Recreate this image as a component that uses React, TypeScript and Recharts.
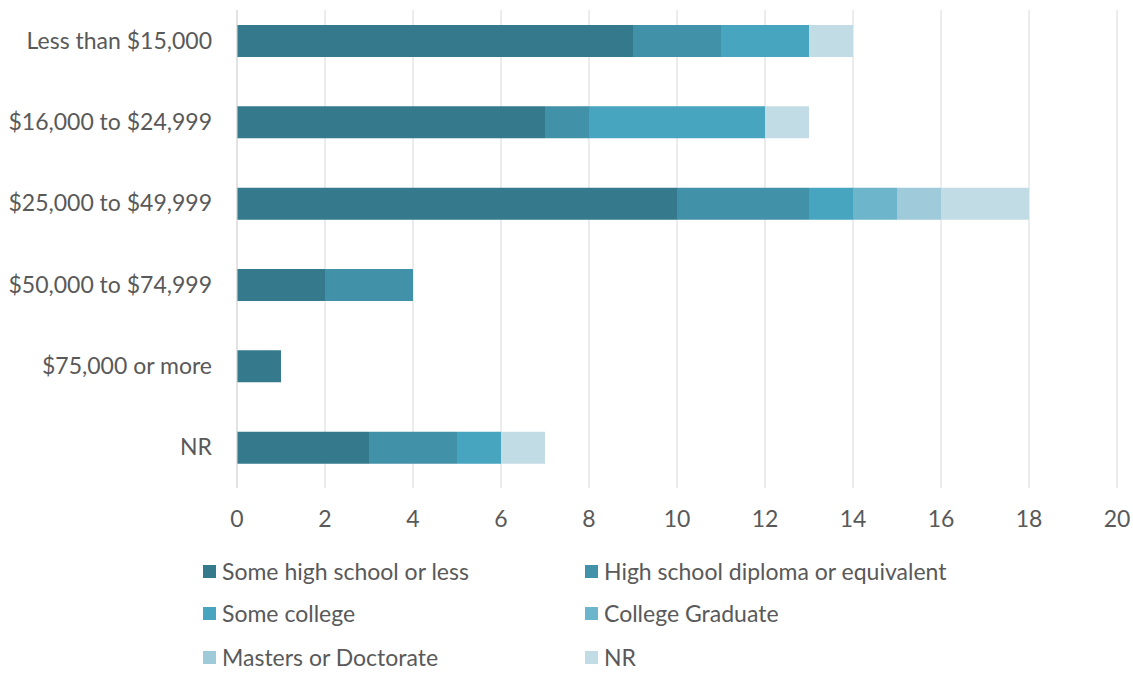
import React from 'react';
import { BarChart, Bar, XAxis, YAxis, CartesianGrid } from 'recharts';

const categories = [
    'Less than $15,000',
    '$16,000 to $24,999',
    '$25,000 to $49,999',
    '$50,000 to $74,999',
    '$75,000 or more',
    'NR',
];

const someHighSchool = [9, 7, 10, 2, 1, 3];
const highSchoolDiploma = [2, 1, 3, 2, 0, 2];
const someCollege = [2, 4, 1, 0, 0, 1];
const collegeGraduate = [0, 0, 1, 0, 0, 0];
const masters = [0, 0, 1, 0, 0, 0];
const notReported = [1, 1, 2, 0, 0, 1];

const xTicks = [0, 2, 4, 6, 8, 10, 12, 14, 16, 18, 20];

const series = [
    { key: 'someHS', name: 'Some high school or less', values: someHighSchool, color: '#357A8C' },
    { key: 'hsDiploma', name: 'High school diploma or equivalent', values: highSchoolDiploma, color: '#4191A8' },
    { key: 'someCollege', name: 'Some college', values: someCollege, color: '#47A5BF' },
    { key: 'collegeGrad', name: 'College Graduate', values: collegeGraduate, color: '#6DB5CB' },
    { key: 'masters', name: 'Masters or Doctorate', values: masters, color: '#9ECAD9' },
    { key: 'nr', name: 'NR', values: notReported, color: '#C2DCE5' },
];

const data = categories.map((cat, i) => {
    const row: any = { category: cat };
    series.forEach((s) => {
        row[s.key] = s.values[i];
    });
    return row;
});

const font = 'Lato, "Open Sans", sans-serif';

const App: React.FC = () => {
    return (
        <div style={{ position: 'absolute', left: 0, top: 0, width: 1133, height: 673, background: 'white', fontFamily: font }}>
            <BarChart
                width={1133}
                height={540}
                data={data}
                layout="vertical"
                margin={{ top: 10, right: 16, bottom: 0, left: 0 }}
            >
                <CartesianGrid horizontal={false} stroke="#d9d9d9" />
                <XAxis
                    type="number"
                    domain={[0, 20]}
                    ticks={xTicks}
                    axisLine={false}
                    tickLine={false}
                    tickSize={0}
                    tickMargin={23}
                    height={52}
                    tick={{ fill: '#595959', fontSize: 23, fontFamily: font }}
                />
                <YAxis
                    type="category"
                    dataKey="category"
                    width={237}
                    padding={{ top: -10, bottom: 0 }}
                    axisLine={{ stroke: '#d9d9d9' }}
                    tickLine={false}
                    tickSize={0}
                    tickMargin={25}
                    tick={{ fill: '#595959', fontSize: 23, fontFamily: font }}
                />
                {series.map((s) => (
                    <Bar
                        key={s.key}
                        dataKey={s.key}
                        name={s.name}
                        stackId="a"
                        fill={s.color}
                        barSize={32}
                        isAnimationActive={false}
                    />
                ))}
            </BarChart>
            {series.map((s, i) => {
                const col = i % 2;
                const row = Math.floor(i / 2);
                const top = [571, 613, 657][row];
                const left = col === 0 ? 203 : 585;
                return (
                    <div
                        key={s.key}
                        style={{
                            position: 'absolute',
                            left,
                            top: top - 14,
                            height: 28,
                            display: 'flex',
                            alignItems: 'center',
                            fontSize: 23,
                            color: '#595959',
                            whiteSpace: 'nowrap',
                        }}
                    >
                        <span style={{ display: 'inline-block', width: 13, height: 13, background: s.color, marginRight: 6 }} />
                        {s.name}
                    </div>
                );
            })}
        </div>
    );
};

export default App;
